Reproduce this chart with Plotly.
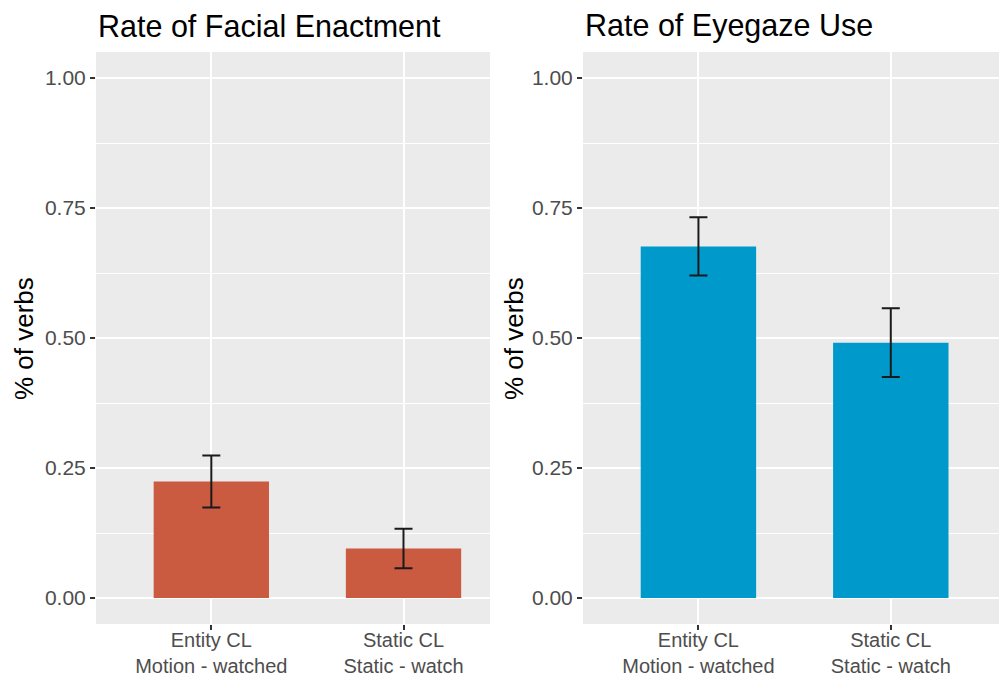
import plotly.graph_objects as go
from plotly.subplots import make_subplots

# Condition labels (two-line tick text)
conditions = ["Entity CL<br>Motion - watched", "Static CL<br>Static - watch"]

# Proportion of verbs with facial enactment, with standard errors
facial_rate = [0.224, 0.095]
facial_se = [0.050, 0.038]

# Proportion of verbs with eyegaze use, with standard errors
eyegaze_rate = [0.676, 0.491]
eyegaze_se = [0.056, 0.066]

panel_titles = ["Rate of Facial Enactment", "Rate of Eyegaze Use"]
y_title = "% of verbs"
y_ticks = [0.0, 0.25, 0.5, 0.75, 1.0]

W, H = 999, 676
FONT = "Liberation Sans, Arial, Helvetica, sans-serif"

fig = make_subplots(rows=1, cols=2)

fig.add_trace(go.Bar(
    x=conditions, y=facial_rate, width=0.6,
    marker=dict(color="#CA5A40", line=dict(width=0)),
    error_y=dict(type="data", array=facial_se, symmetric=True,
                 color="#1a1a1a", thickness=2, width=9),
    showlegend=False,
), row=1, col=1)

fig.add_trace(go.Bar(
    x=conditions, y=eyegaze_rate, width=0.6,
    marker=dict(color="#0099CB", line=dict(width=0)),
    error_y=dict(type="data", array=eyegaze_se, symmetric=True,
                 color="#1a1a1a", thickness=2, width=9),
    showlegend=False,
), row=1, col=2)

panel_top, panel_bottom = 52, 624
ydom = [1 - panel_bottom / H, 1 - panel_top / H]
panels = [
    dict(x0=96, x1=490, xr=[-0.6, 1.45]),
    dict(x0=583, x1=999, xr=[-0.6, 1.5625]),
]

for i, p in enumerate(panels, start=1):
    fig.update_xaxes(
        row=1, col=i,
        domain=[p["x0"] / W, p["x1"] / W],
        range=p["xr"], automargin=False,
        showgrid=True, gridcolor="white", gridwidth=2,
        ticks="outside", ticklen=5, tickwidth=1.5, tickcolor="#333333",
        tickfont=dict(family=FONT, size=20, color="#4D4D4D"),
        ticklabelstandoff=-7,
        showline=False, zeroline=False,
    )
    fig.update_yaxes(
        row=1, col=i,
        domain=ydom, automargin=False,
        range=[-0.05, 1.05],
        tickvals=y_ticks, tickformat=".2f",
        showgrid=True, gridcolor="white", gridwidth=2,
        minor=dict(dtick=0.125, tick0=0, showgrid=True,
                   gridcolor="white", gridwidth=1, ticks=""),
        ticks="outside", ticklen=5, tickwidth=1.5, tickcolor="#333333",
        tickfont=dict(family=FONT, size=21, color="#4D4D4D"),
        showline=False, zeroline=False,
    )
    # Panel title, left-aligned with the plotting area
    fig.add_annotation(
        text=panel_titles[i - 1], xref="paper", yref="paper",
        x=p["x0"] / W, y=1 - 26 / H, xanchor="left", yanchor="middle",
        showarrow=False,
        font=dict(family=FONT, size=30.5, color="black"),
    )

# Y-axis titles
for xc in (24, 514):
    fig.add_annotation(
        text=y_title, xref="paper", yref="paper",
        x=xc / W, y=1 - 339 / H, xanchor="center", yanchor="middle",
        textangle=-90, showarrow=False,
        font=dict(family=FONT, size=26, color="black"),
    )

fig.update_layout(
    width=W, height=H,
    margin=dict(l=0, r=0, t=0, b=0),
    paper_bgcolor="white",
    plot_bgcolor="#EBEBEB",
    bargap=0.4,
)

fig.write_html("out.html")
